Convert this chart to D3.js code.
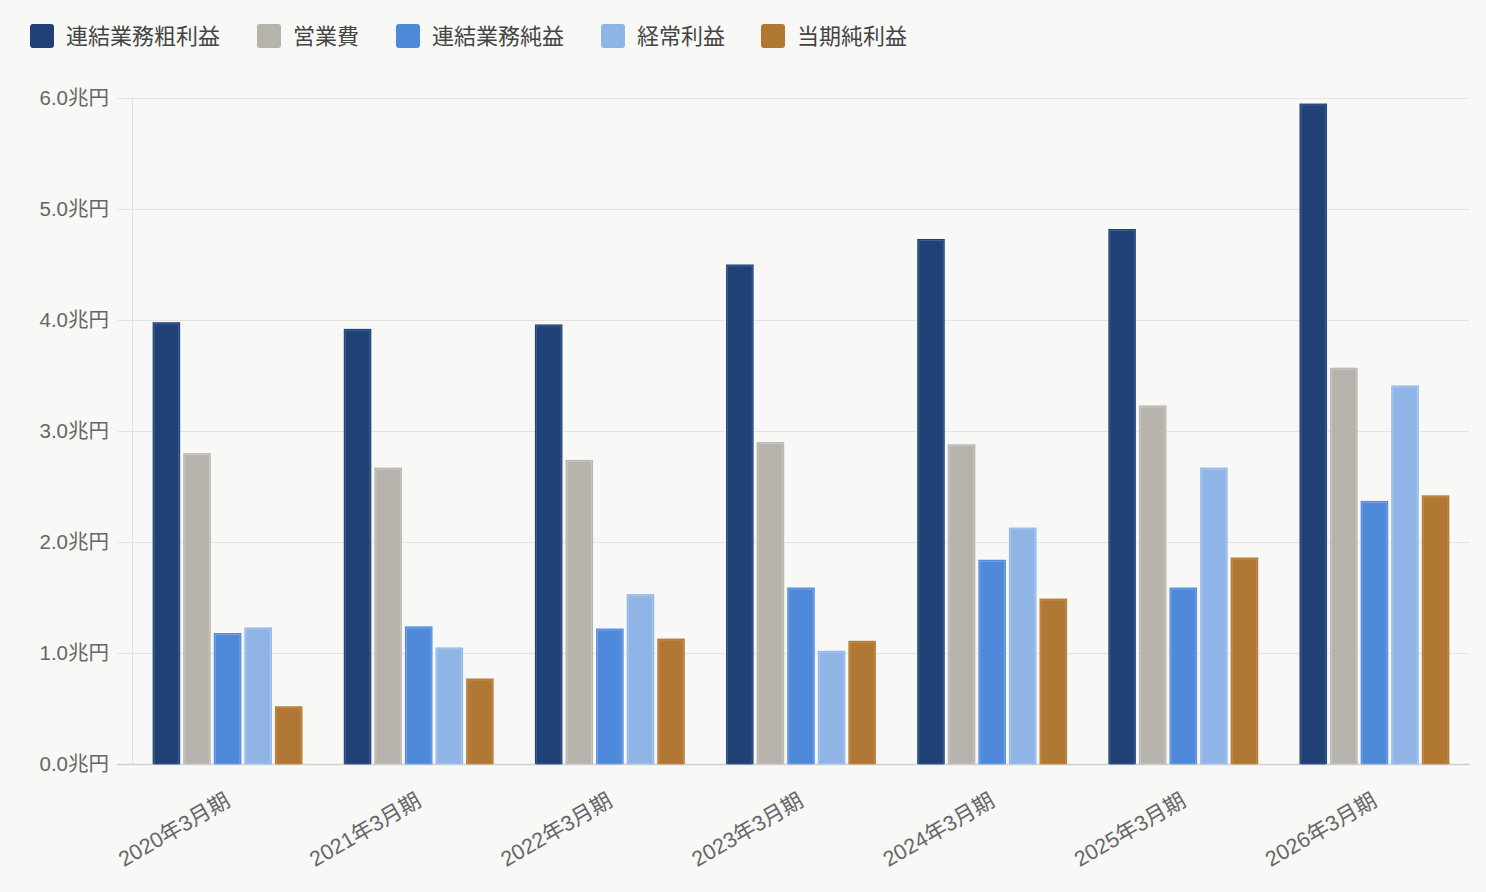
<!DOCTYPE html>
<html><head><meta charset="utf-8">
<script src="https://cdn.jsdelivr.net/npm/d3@7"></script>
<style>
html,body{margin:0;padding:0;background:#f8f8f6;}
svg{display:block;font-family:"Liberation Sans","Noto Sans CJK JP",sans-serif;}
</style></head>
<body>
<svg id="c" width="1486" height="892"></svg>
<script>
const categories = ["2020年3月期","2021年3月期","2022年3月期","2023年3月期","2024年3月期","2025年3月期","2026年3月期"];
const seriesNames = ["連結業務粗利益","営業費","連結業務純益","経常利益","当期純利益"];
const grossProfit = [3.98, 3.92, 3.96, 4.50, 4.73, 4.82, 5.95];
const operatingExp = [2.80, 2.67, 2.74, 2.90, 2.88, 3.23, 3.57];
const netBusiness = [1.18, 1.24, 1.22, 1.59, 1.84, 1.59, 2.37];
const ordinaryProfit = [1.23, 1.05, 1.53, 1.02, 2.13, 2.67, 3.41];
const netIncome = [0.52, 0.77, 1.13, 1.11, 1.49, 1.86, 2.42];
const yTicks = [0,1,2,3,4,5,6];
const colors = ["#1f4176","#b6b3ad","#4f89d9","#8fb5e6","#b17833"];
const borders = ["#3e5f94","#c9c6c0","#76a3e6","#a9c7ef","#c08d4f"];
const seriesValues = [grossProfit, operatingExp, netBusiness, ordinaryProfit, netIncome];

const svg = d3.select("#c");
const m = {l:132, r:1470, t:98, b:764};
const x = d3.scaleBand().domain(categories).range([m.l, m.r]).paddingInner(0.2).paddingOuter(0.1);
const xs = d3.scaleBand().domain(seriesNames).range([0, x.bandwidth()]).paddingInner(0.1).paddingOuter(0.05);
const y = d3.scaleLinear().domain([0,6]).range([m.b, m.t]);

// grid
const g = svg.append("g");
g.selectAll("line.grid").data(yTicks).join("line")
  .attr("x1", 117).attr("x2", m.r).attr("y1", d=>y(d)+0.5).attr("y2", d=>y(d)+0.5)
  .attr("stroke", d=> d===0 ? "#cfcfcf" : "#e4e4e2").attr("stroke-width", d=> d===0?1.5:1);
g.append("line").attr("x1", m.l+0.5).attr("x2", m.l+0.5).attr("y1", m.t).attr("y2", m.b)
  .attr("stroke","#e0e0de");

// y labels
g.selectAll("text.yl").data(yTicks).join("text")
  .attr("x", 109).attr("y", d=>y(d)).attr("dy","0.35em")
  .attr("text-anchor","end").attr("font-size",20.5).attr("fill","#666")
  .text(d=>d3.format(".1f")(d)+"兆円");

// bars
const cat = svg.append("g").selectAll("g").data(categories).join("g")
  .attr("transform", d=>`translate(${x(d)},0)`);
seriesNames.forEach((s,si)=>{
  cat.append("rect")
    .attr("x", xs(s)).attr("width", xs.bandwidth())
    .attr("y", (d,i)=>y(seriesValues[si][i]))
    .attr("height", (d,i)=>m.b - y(seriesValues[si][i]))
    .attr("fill", colors[si]);
  cat.append("rect")
    .attr("x", xs(s)+1.5).attr("width", xs.bandwidth()-3)
    .attr("y", (d,i)=>y(seriesValues[si][i])+1.5)
    .attr("height", (d,i)=>Math.max(0, m.b - y(seriesValues[si][i]) - 1.5))
    .attr("fill", "none").attr("stroke", borders[si]).attr("stroke-width",1);
});

// x labels
svg.append("g").selectAll("text").data(categories).join("text")
  .attr("transform", d=>`translate(${x(d)+x.bandwidth()/2+4},${805}) rotate(-30)`)
  .attr("text-anchor","end").attr("font-size",21.5).attr("fill","#666")
  .text(d=>d);

// legend
const legX = [30, 257, 396, 601, 761];
const leg = svg.append("g").selectAll("g").data(seriesNames).join("g")
  .attr("transform",(d,i)=>`translate(${legX[i]},24)`);
leg.append("rect").attr("width",24).attr("height",24).attr("rx",3).attr("fill",(d,i)=>colors[i]);
leg.append("text").attr("x",36).attr("y",12).attr("dy","0.36em")
  .attr("font-size",22).attr("fill","#444").text(d=>d);
</script>
</body></html>
